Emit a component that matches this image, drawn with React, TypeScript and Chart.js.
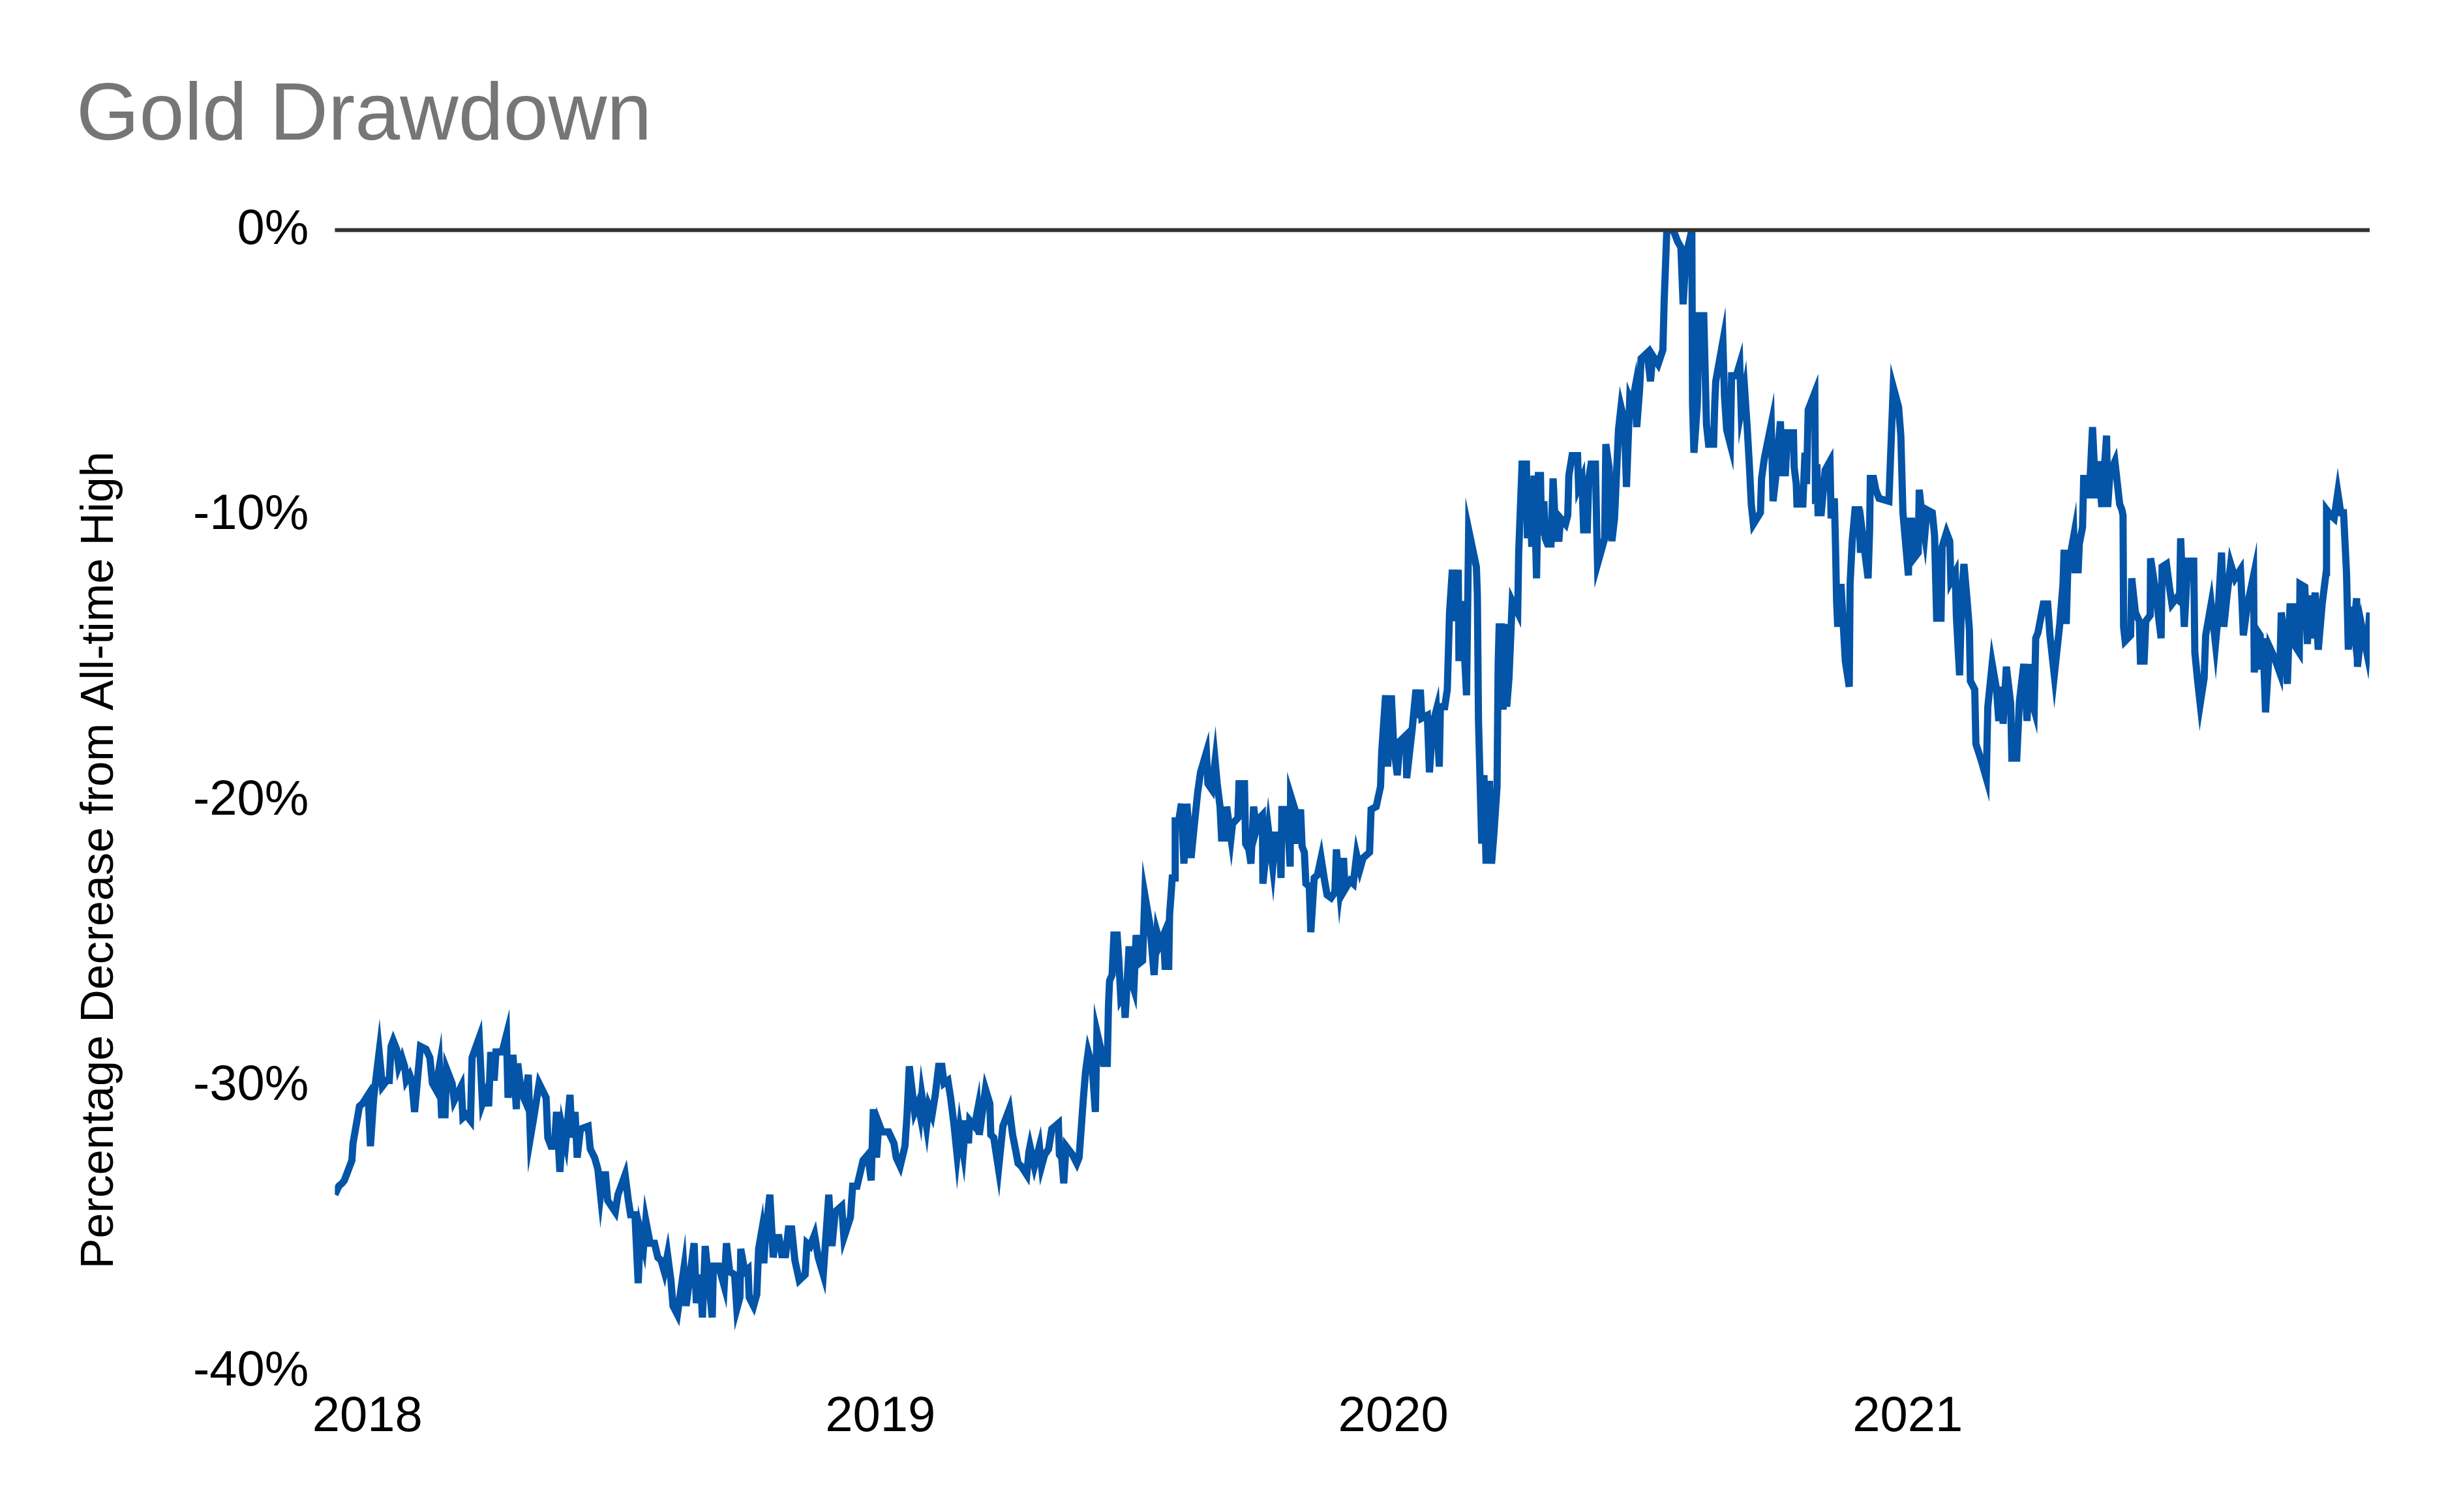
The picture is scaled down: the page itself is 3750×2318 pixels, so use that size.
import { useEffect, useRef } from "react"
import { Chart, registerables } from "chart.js"
import type { Plugin } from "chart.js"

Chart.register(...registerables)

// x = days since 1 Jan 2018, y = % below all-time high
const drawdown2018: [number, number][] = [
  [-23.1, -33.8], [-20.3, -33.5], [-18.0, -33.4], [-16.4, -33.3], [-11.0, -32.6], [-10.2, -32.0], [-5.6, -30.7], [-3.3, -30.6],
  [0.6, -30.3], [2.2, -32.1], [4.5, -30.4], [8.4, -28.8], [10.7, -30.0], [13.8, -29.8], [15.6, -29.8], [16.9, -28.6],
  [18.4, -28.4], [20.8, -28.7], [22.3, -29.3], [24.6, -29.0], [26.5, -29.3], [27.7, -29.8], [30.1, -29.6], [31.6, -29.8],
  [33.6, -30.9], [37.8, -28.6], [41.7, -28.7], [44.5, -29.0], [46.3, -29.9], [48.6, -30.1], [51.3, -29.3], [52.8, -31.0],
  [55.3, -31.0], [56.4, -29.4], [60.3, -29.9], [61.8, -30.5], [66.8, -30.0], [68.0, -31.1], [70.3, -31.0], [73.4, -31.2],
  [74.5, -29.0], [79.6, -28.3], [81.9, -30.6], [84.7, -30.2], [86.3, -30.7], [87.8, -28.8], [90.2, -29.8], [91.5, -28.8],
  [95.9, -28.8], [99.0, -28.2], [100.1, -30.4], [103.6, -28.9], [106.0, -30.8], [107.0, -29.2], [109.5, -30.2], [112.1, -30.5],
  [114.5, -29.6], [116.0, -31.8], [118.4, -31.1], [122.2, -29.9], [127.2, -30.4], [128.4, -31.8], [130.7, -32.1], [133.1, -32.1],
  [134.6, -30.9], [137.0, -33.0], [138.9, -31.5], [141.1, -32.0], [144.2, -30.3], [145.5, -31.8], [147.8, -30.9], [149.3, -32.5],
  [151.6, -31.5], [157.1, -31.4], [158.6, -32.2], [161.7, -32.5], [164.0, -32.9], [165.9, -33.8], [167.5, -33.1], [169.5, -33.1],
  [171.0, -34.0], [176.4, -34.4], [178.3, -33.8], [183.4, -33.1], [185.7, -34.0], [187.3, -34.5], [190.4, -34.5], [192.7, -36.9],
  [194.3, -35.1], [196.6, -35.6], [198.1, -34.7], [201.2, -35.5], [204.3, -35.5], [206.7, -36.0], [209.0, -36.1], [211.3, -36.5],
  [213.6, -35.9], [216.0, -36.8], [217.5, -37.7], [220.6, -38.0], [225.2, -36.4], [226.8, -37.7], [232.5, -35.5], [234.1, -37.6],
  [236.9, -36.6], [238.4, -38.1], [240.4, -35.6], [245.4, -38.1], [246.2, -36.3], [250.0, -36.3], [253.9, -37.0], [255.5, -35.5],
  [257.8, -36.5], [261.3, -36.6], [262.9, -37.8], [265.1, -37.4], [265.7, -35.7], [268.6, -36.5], [270.9, -36.4], [271.7, -37.4],
  [274.8, -37.7], [277.1, -37.3], [278.4, -35.7], [280.5, -35.1], [282.1, -36.2], [283.6, -35.0], [286.4, -33.8], [288.8, -36.0],
  [290.3, -35.3], [292.9, -35.3], [294.9, -35.9], [297.6, -35.9], [299.6, -35.0], [301.9, -35.0], [304.2, -36.1], [307.3, -36.8],
  [311.5, -36.6], [312.8, -35.5], [315.1, -35.6], [318.2, -35.2], [320.8, -36.0], [324.4, -36.6], [328.3, -33.8], [330.6, -35.6],
  [332.9, -34.4], [337.5, -34.2], [339.1, -35.3], [343.7, -34.6], [345.3, -33.5], [348.4, -33.5], [352.7, -32.6], [356.1, -32.4],
  [358.5, -33.3], [360.0, -30.8], [362.3, -32.5], [363.9, -31.3],
]

const drawdown2019: [number, number][] = [
  [366.2, -31.6], [370.9, -31.6], [374.7, -32.0], [376.3, -32.5], [379.1, -32.8], [382.5, -32.1], [384.0, -31.0], [385.6, -29.3],
  [389.4, -30.9], [391.8, -30.6], [393.3, -31.0], [394.5, -30.3], [397.9, -31.4], [399.5, -30.7], [401.8, -31.0], [404.1, -30.3],
  [406.5, -29.3], [408.8, -29.3], [410.3, -29.9], [413.1, -29.8], [415.0, -30.4], [417.3, -31.3], [419.6, -32.4], [421.5, -31.5],
  [424.0, -32.3], [425.8, -31.2], [427.7, -32.0], [428.6, -31.2], [432.0, -31.4], [434.3, -30.8], [435.4, -31.7], [439.8, -30.1],
  [442.9, -30.6], [443.6, -31.7], [445.7, -31.8], [449.1, -32.9], [452.2, -31.4], [456.8, -30.8], [459.1, -31.7], [461.5, -32.3],
  [463.0, -32.7], [465.3, -32.8], [469.2, -33.1], [470.7, -32.3], [471.5, -32.1], [474.6, -32.8], [478.2, -32.1], [479.7, -32.8],
  [481.9, -32.4], [484.7, -32.2], [487.0, -31.5], [491.7, -31.3], [492.4, -32.4], [494.0, -32.5], [495.5, -33.4], [497.1, -32.1],
  [501.7, -32.4], [504.8, -32.7], [506.4, -32.5], [507.9, -31.5], [509.5, -30.4], [511.0, -29.5], [512.9, -28.8], [515.7, -29.3],
  [518.0, -30.9], [519.1, -28.1], [521.9, -28.7], [523.7, -29.2], [526.5, -29.2], [527.3, -27.2], [528.1, -26.3], [529.9, -26.1],
  [531.2, -24.7], [533.5, -24.7], [534.6, -25.5], [536.1, -26.9], [538.1, -26.7], [539.2, -27.6], [542.0, -25.1], [543.5, -26.3],
  [545.4, -26.6], [547.0, -24.7], [549.0, -25.7], [551.6, -25.6], [553.2, -23.3], [556.7, -24.3], [559.8, -26.1], [561.8, -24.6],
  [564.0, -25.0], [566.5, -24.7], [567.6, -25.8], [570.2, -25.8], [570.8, -24.0], [572.7, -22.7], [574.5, -22.7], [574.8, -20.7],
  [577.3, -20.7], [579.2, -20.1], [581.0, -22.2], [583.1, -20.1], [586.1, -22.0], [588.5, -20.8], [590.8, -19.7], [592.8, -19.0],
  [597.0, -18.3], [598.1, -19.4], [600.9, -19.6], [603.2, -18.6], [604.7, -19.4], [606.7, -20.2], [607.8, -21.3], [610.9, -21.3],
  [611.4, -20.2], [614.5, -21.3], [615.6, -20.8], [619.4, -20.6], [620.2, -19.4], [624.1, -19.4], [624.9, -21.5], [627.2, -21.7],
  [628.7, -22.2], [630.6, -20.2], [632.6, -21.0], [634.9, -20.6], [636.8, -20.5], [637.2, -22.9], [641.1, -21.0], [644.2, -22.3],
  [646.1, -21.2], [648.9, -21.2], [650.1, -22.7], [650.7, -20.3], [654.3, -20.3], [656.6, -22.3], [656.9, -19.8], [660.0, -20.3],
  [661.3, -21.5], [664.0, -20.3], [665.1, -21.6], [666.7, -21.8], [667.8, -22.9], [670.2, -23.0], [671.3, -24.6], [673.7, -22.7],
  [676.0, -22.6], [678.6, -22.0], [681.1, -22.8], [682.9, -23.3], [685.7, -23.4], [688.4, -23.2], [689.5, -21.7], [691.9, -23.1],
  [694.6, -22.0], [695.6, -23.1], [699.2, -22.8], [701.5, -22.9], [703.9, -21.9], [706.2, -22.4], [708.5, -22.0], [713.1, -21.8],
  [714.2, -20.3], [717.8, -20.2], [720.9, -19.5], [721.7, -18.3], [724.5, -16.3], [726.0, -18.8], [728.6, -16.3],
]

const drawdown2020: [number, number][] = [
  [730.2, -18.0], [732.8, -19.1], [734.8, -17.9], [739.0, -17.7], [739.5, -19.2], [743.4, -17.5], [746.1, -16.1], [747.7, -17.1],
  [749.2, -16.1], [750.3, -17.1], [754.2, -17.0], [755.7, -19.0], [758.1, -17.3], [760.7, -16.8], [762.7, -18.8], [763.5, -16.7],
  [766.6, -16.7], [768.4, -16.1], [770.0, -13.4], [772.0, -11.9], [773.6, -13.7], [776.2, -11.9], [776.7, -15.1], [778.7, -13.0],
  [782.1, -16.3], [783.6, -10.5], [789.1, -11.8], [789.8, -12.8], [790.6, -17.2], [792.9, -21.5], [794.5, -19.1], [796.0, -22.2],
  [798.4, -19.3], [799.9, -22.2], [801.5, -21.2], [803.8, -19.5], [804.6, -15.2], [805.3, -13.9], [806.9, -13.9], [808.1, -16.8],
  [809.7, -13.8], [810.7, -16.7], [812.3, -15.7], [814.6, -13.0], [818.5, -13.4], [819.2, -11.3], [821.6, -8.2], [824.7, -8.2],
  [825.4, -10.8], [827.0, -8.8], [828.5, -11.1], [830.1, -8.6], [831.9, -12.2], [833.2, -8.6], [834.7, -8.6], [835.5, -10.7],
  [837.1, -9.5], [838.1, -10.8], [839.7, -11.0], [842.2, -11.0], [843.7, -8.7], [845.6, -10.8], [847.9, -10.8], [849.0, -10.1],
  [852.5, -10.3], [854.1, -10.0], [854.9, -8.6], [857.2, -7.9], [861.1, -7.9], [861.8, -9.0], [864.2, -8.7], [865.4, -10.5],
  [868.0, -10.5], [869.1, -8.7], [870.7, -8.2], [873.8, -8.2], [874.7, -10.4], [875.3, -11.7], [880.4, -10.8], [881.2, -7.5],
  [883.5, -8.3], [885.5, -10.9], [887.4, -10.1], [890.2, -7.0], [892.0, -6.2], [894.4, -6.7], [895.9, -9.0], [898.2, -5.9],
  [899.8, -6.1], [901.7, -5.6], [903.2, -6.9], [905.2, -5.6], [906.3, -4.5], [910.6, -4.3], [913.0, -5.3], [914.5, -4.4],
  [918.4, -4.7], [921.8, -4.2], [922.7, -2.5], [924.6, 0], [929.2, 0], [932.3, -0.4], [934.6, -0.6], [936.2, -2.6],
  [938.2, -0.9], [940.1, -0.5], [942.4, 0], [942.9, -6.1], [943.9, -7.8], [946.3, -6.1], [947.5, -3.0], [950.9, -3.0],
  [951.7, -4.6], [952.8, -6.8], [954.3, -7.5], [957.9, -7.5], [958.7, -6.1], [959.4, -5.3], [964.5, -3.9], [965.6, -5.8],
  [967.2, -7.0], [969.8, -7.5], [970.7, -5.1], [974.1, -5.1], [976.5, -4.7], [977.5, -6.3], [980.0, -5.6], [981.9, -7.0],
  [983.4, -8.3], [984.7, -9.6], [986.2, -10.3], [991.2, -9.9], [992.0, -8.7], [994.0, -8.0], [998.9, -6.8], [1000.2, -9.5],
  [1002.0, -8.7], [1005.4, -6.7], [1006.7, -8.5], [1009.0, -8.5], [1010.5, -7.1], [1014.7, -7.1], [1015.2, -8.3], [1016.7, -8.9],
  [1017.2, -9.6], [1021.4, -9.6], [1022.9, -7.8], [1024.0, -8.9], [1025.2, -6.3], [1029.9, -5.7], [1030.4, -9.6], [1031.4, -8.2],
  [1032.2, -9.9], [1034.5, -9.9], [1037.3, -8.4], [1040.7, -8.1], [1041.5, -10.1], [1043.8, -9.4], [1044.6, -11.0], [1045.4, -13.0],
  [1046.2, -13.9], [1048.5, -12.4], [1051.6, -15.1], [1054.4, -16.0], [1055.0, -12.4], [1056.5, -10.9], [1058.5, -9.8], [1061.2, -9.8],
  [1062.4, -11.3], [1064.0, -10.7], [1067.8, -12.2], [1068.9, -10.5], [1069.4, -8.7], [1071.7, -8.7], [1073.3, -9.1], [1075.6, -9.4],
  [1082.6, -9.5], [1085.7, -5.5], [1089.5, -6.2], [1091.1, -7.2], [1092.6, -9.9],
]

const drawdown2021: [number, number][] = [
  [1096.5, -12.1], [1097.3, -10.2], [1098.8, -10.2], [1100.4, -11.5], [1103.5, -11.3], [1104.2, -9.1], [1106.6, -10.2], [1108.1, -10.7],
  [1109.7, -9.8], [1113.5, -9.9], [1115.1, -10.7], [1116.6, -13.6], [1119.7, -13.6], [1120.5, -11.1], [1123.6, -10.6], [1125.9, -10.9],
  [1126.7, -12.3], [1129.8, -12.0], [1130.6, -13.5], [1132.9, -15.6], [1134.5, -12.7], [1136.0, -11.7], [1138.3, -13.0], [1139.9, -14.0],
  [1140.6, -15.8], [1143.7, -16.1], [1144.5, -18.0], [1148.4, -18.6], [1151.9, -19.2], [1153.0, -16.7], [1156.1, -15.2], [1159.2, -16.1],
  [1160.8, -17.2], [1163.1, -16.0], [1163.9, -17.3], [1166.2, -15.3], [1169.3, -16.6], [1170.1, -18.5], [1173.6, -18.5], [1175.5, -16.5],
  [1178.6, -15.2], [1180.9, -17.2], [1182.5, -15.2], [1183.2, -16.3], [1186.0, -16.8], [1187.1, -14.3], [1188.7, -14.1], [1192.5, -13.1],
  [1195.6, -13.1], [1197.2, -14.2], [1200.3, -15.6], [1204.2, -13.8], [1206.5, -12.4], [1207.3, -11.2], [1208.8, -13.8], [1209.9, -11.9],
  [1214.2, -10.7], [1215.0, -11.9], [1217.3, -11.9], [1218.1, -11.0], [1220.4, -10.4], [1221.2, -8.7], [1224.3, -8.7], [1225.1, -9.4],
  [1227.5, -6.9], [1229.8, -9.4], [1231.3, -8.1], [1234.1, -9.7], [1237.5, -7.2], [1238.3, -9.7], [1239.9, -8.5], [1243.4, -8.1],
  [1246.8, -9.6], [1248.4, -9.8], [1249.2, -10.0], [1249.6, -13.9], [1250.7, -14.4], [1254.6, -14.2], [1255.4, -12.2], [1258.0, -13.4],
  [1260.8, -13.7], [1261.6, -15.1], [1264.2, -15.1], [1265.4, -13.7], [1268.5, -13.5], [1268.8, -11.5], [1271.9, -12.5], [1276.3, -14.3],
  [1277.0, -11.8], [1280.1, -11.7], [1282.2, -12.5], [1284.0, -13.1], [1287.1, -12.9], [1289.4, -13.0], [1290.2, -10.8], [1292.8, -13.9],
  [1294.1, -12.7], [1295.2, -11.6], [1299.5, -11.6], [1300.3, -14.8], [1302.3, -15.8], [1304.1, -16.6], [1306.9, -15.7], [1308.0, -14.2],
  [1311.9, -13.1], [1315.0, -14.5], [1316.5, -13.7], [1319.3, -11.3], [1320.9, -13.9], [1323.0, -12.9], [1325.8, -11.7], [1328.9, -12.2],
  [1332.8, -11.9], [1333.9, -13.1], [1334.8, -14.2], [1337.5, -13.2], [1342.1, -12.1], [1342.6, -15.5], [1344.1, -14.0], [1346.8, -14.2],
  [1347.5, -15.4], [1348.8, -14.3], [1350.6, -16.9], [1353.4, -14.6], [1357.1, -15.0], [1360.7, -15.5], [1361.8, -13.4], [1364.3, -14.3],
  [1366.1, -15.9], [1368.0, -13.2], [1370.8, -13.2], [1372.0, -14.6], [1374.6, -14.8], [1375.1, -12.4], [1378.5, -12.5], [1380.4, -14.5],
  [1381.9, -12.8], [1383.2, -14.3], [1385.9, -12.7], [1388.1, -14.7], [1390.9, -13.1], [1393.7, -12.0], [1394.0, -9.8], [1397.1, -10.0],
  [1399.4, -10.1], [1402.0, -9.2], [1404.1, -9.9], [1406.1, -9.9], [1408.2, -12.0], [1409.5, -14.7], [1411.8, -13.2], [1413.4, -13.9],
  [1415.4, -12.9], [1416.0, -15.3], [1419.1, -13.9], [1422.7, -14.8], [1424.7, -13.4],
]

const yearLabels = ["2018", "2019", "2020", "2021"]
const percentTicks = [0, -10, -20, -30, -40]
const yAxisTitle = "Percentage Decrease from All-time High"

const FONT = "'Liberation Sans', Arial, Helvetica, sans-serif"

const dayOfYearStart = (year: string) =>
  (Date.UTC(Number(year), 0, 1) - Date.UTC(2018, 0, 1)) / 86400000

// draws the 0% reference line over the series, and the y axis title a bit below centre
const overlayPlugin: Plugin<"line"> = {
  id: "drawdownOverlay",
  afterDatasetsDraw(chart) {
    const { ctx, chartArea } = chart
    const y0 = chart.scales.y.getPixelForValue(0)
    ctx.save()
    ctx.strokeStyle = "#333333"
    ctx.lineWidth = 6
    ctx.beginPath()
    ctx.moveTo(chartArea.left, y0)
    ctx.lineTo(chartArea.right, y0)
    ctx.stroke()

    const midY = chartArea.top + (chartArea.bottom - chartArea.top) * 0.552
    ctx.translate(154, midY)
    ctx.rotate(-Math.PI / 2)
    ctx.fillStyle = "#000"
    ctx.font = `70px ${FONT}`
    ctx.textAlign = "center"
    ctx.textBaseline = "middle"
    ctx.fillText(yAxisTitle, 0, 0)
    ctx.restore()
  },
}

function DrawdownChart() {
  const chartRef = useRef<HTMLCanvasElement>(null)
  const chartInstance = useRef<Chart | null>(null)

  useEffect(() => {
    if (!chartRef.current) return
    if (chartInstance.current) {
      chartInstance.current.destroy()
    }
    const ctx = chartRef.current.getContext("2d")
    if (!ctx) return

    const points = [...drawdown2018, ...drawdown2019, ...drawdown2020, ...drawdown2021].map(([d, v]) => ({ x: d, y: v }))
    const yearTicks = yearLabels.map(dayOfYearStart)

    chartInstance.current = new Chart(ctx, {
      type: "line",
      data: {
        datasets: [
          {
            label: "Drawdown",
            data: points,
            borderColor: "#0454a7",
            backgroundColor: "#0454a7",
            borderWidth: 11,
            pointRadius: 0,
            tension: 0,
            fill: false,
            clip: 0,
          },
        ],
      },
      plugins: [overlayPlugin],
      options: {
        animation: false,
        responsive: true,
        maintainAspectRatio: false,
        layout: { padding: { left: 117, right: 117, top: 0, bottom: 74 } },
        plugins: {
          legend: { display: false },
          tooltip: { enabled: false },
          title: {
            display: true,
            text: "Gold Drawdown",
            align: "start",
            color: "#767676",
            font: { family: FONT, size: 124, weight: "normal" },
            padding: { top: 105, bottom: 99 },
          },
        },
        scales: {
          x: {
            type: "linear",
            min: points[0].x,
            max: points[points.length - 1].x,
            grid: { display: false, drawTicks: false },
            border: { display: false },
            afterBuildTicks: (axis) => {
              axis.ticks = yearTicks.map((v) => ({ value: v }))
            },
            ticks: {
              autoSkip: false,
              maxRotation: 0,
              padding: 25,
              color: "#000",
              font: { family: FONT, size: 76 },
              callback: (_v, i) => yearLabels[i],
            },
          },
          y: {
            min: -40,
            max: 0,
            afterBuildTicks: (axis) => {
              axis.ticks = percentTicks.map((v) => ({ value: v }))
            },
            grid: { display: false, drawTicks: false },
            border: { display: false },
            ticks: {
              padding: 40,
              color: "#000",
              font: { family: FONT, size: 76 },
              callback: (v) => `${v}%`,
            },
            // keeps room for the title, which the overlay plugin draws
            title: {
              display: true,
              text: yAxisTitle,
              color: "rgba(0,0,0,0)",
              font: { family: FONT, size: 70 },
              padding: { top: 0, bottom: 55 },
            },
          },
        },
      },
    })

    return () => {
      if (chartInstance.current) {
        chartInstance.current.destroy()
        chartInstance.current = null
      }
    }
  }, [])

  return <canvas ref={chartRef} />
}

export default function App() {
  return (
    <div style={{ position: "absolute", left: 0, top: 0, width: "3750px", height: "2318px", background: "#fff" }}>
      <DrawdownChart />
    </div>
  )
}
